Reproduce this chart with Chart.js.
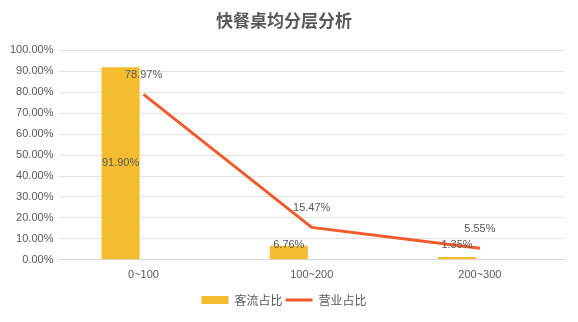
<!DOCTYPE html>
<html>
<head>
<meta charset="utf-8">
<script src="https://cdn.jsdelivr.net/npm/chart.js@4/dist/chart.umd.min.js"></script>
<style>
html,body{margin:0;padding:0;background:#fff;}
#wrap{width:578px;height:322px;position:relative;}
</style>
</head>
<body>
<div id="wrap"><canvas id="c" width="578" height="322"></canvas></div>
<script>
const categories = ['0~100', '100~200', '200~300'];
const customerShare = [91.90, 6.76, 1.35];   // 客流占比
const revenueShare = [78.97, 15.47, 5.55];   // 营业占比
const yTicks = [0, 10, 20, 30, 40, 50, 60, 70, 80, 90, 100];
const seriesNames = ['客流占比', '营业占比'];

const TXT = '#595959';
const labelFont = '11px "Liberation Sans", Arial, sans-serif';

const labelPlugin = {
  id: 'valueLabels',
  afterDatasetsDraw(chart) {
    const ctx = chart.ctx;
    const ys = chart.scales.y;
    ctx.save();
    ctx.font = labelFont;
    ctx.fillStyle = TXT;
    ctx.textAlign = 'center';
    ctx.textBaseline = 'middle';
    const barMeta = chart.getDatasetMeta(0);
    barMeta.data.forEach((el, i) => {
      const mid = (el.y + el.base) / 2;
      const y = Math.min(mid, ys.getPixelForValue(7));
      ctx.fillText(customerShare[i].toFixed(2) + '%', el.x, y);
    });
    const lineMeta = chart.getDatasetMeta(2);
    lineMeta.data.forEach((el, i) => {
      ctx.fillText(revenueShare[i].toFixed(2) + '%', el.x, el.y - 19);
    });
    ctx.restore();
  }
};

new Chart(document.getElementById('c'), {
  data: {
    labels: categories,
    datasets: [
      {
        type: 'bar',
        label: seriesNames[0],
        data: customerShare,
        backgroundColor: '#F4BD2F',
        borderWidth: 0,
        pointStyle: 'rect',
        order: 2
      },
      {
        type: 'bar',
        label: '_spacer',
        data: [null, null, null],
        backgroundColor: 'rgba(0,0,0,0)',
        order: 3
      },
      {
        type: 'line',
        label: seriesNames[1],
        data: revenueShare,
        borderColor: '#F15A2B',
        backgroundColor: '#F15A2B',
        borderWidth: 3,
        pointRadius: 0,
        pointStyle: 'line',
        tension: 0,
        order: 1
      }
    ]
  },
  options: {
    responsive: false,
    animation: false,
    layout: { padding: { left: 4, right: 14, top: 6, bottom: 6 } },
    datasets: {
      bar: { categoryPercentage: 0.545, barPercentage: 0.83 }
    },
    plugins: {
      title: {
        display: true,
        text: '快餐桌均分层分析',
        color: TXT,
        font: { family: '"Noto Sans CJK SC", sans-serif', size: 17, weight: 'bold' },
        padding: { top: 4, bottom: 20 }
      },
      legend: {
        position: 'bottom',
        labels: {
          filter: (item) => item.text !== '_spacer',
          sort: (a, b) => a.datasetIndex - b.datasetIndex,
          usePointStyle: true,
          pointStyleWidth: 27,
          boxHeight: 8,
          color: TXT,
          padding: 3,
          font: { family: '"Noto Sans CJK SC", sans-serif', size: 12 }
        }
      },
      tooltip: { enabled: false }
    },
    scales: {
      x: {
        grid: { display: false, drawTicks: false },
        border: { display: true, color: '#D9D9D9' },
        ticks: { color: TXT, font: { family: '"Liberation Sans", Arial, sans-serif', size: 11 }, padding: 9 }
      },
      y: {
        min: 0,
        max: 100,
        afterBuildTicks: (axis) => { axis.ticks = yTicks.map(v => ({ value: v })); },
        grid: { color: '#E3E3E3', drawTicks: false },
        border: { display: false },
        ticks: {
          color: TXT,
          font: { family: '"Liberation Sans", Arial, sans-serif', size: 11 },
          padding: 6,
          callback: (v) => v.toFixed(2) + '%'
        }
      }
    }
  },
  plugins: [labelPlugin]
});
</script>
</body>
</html>
